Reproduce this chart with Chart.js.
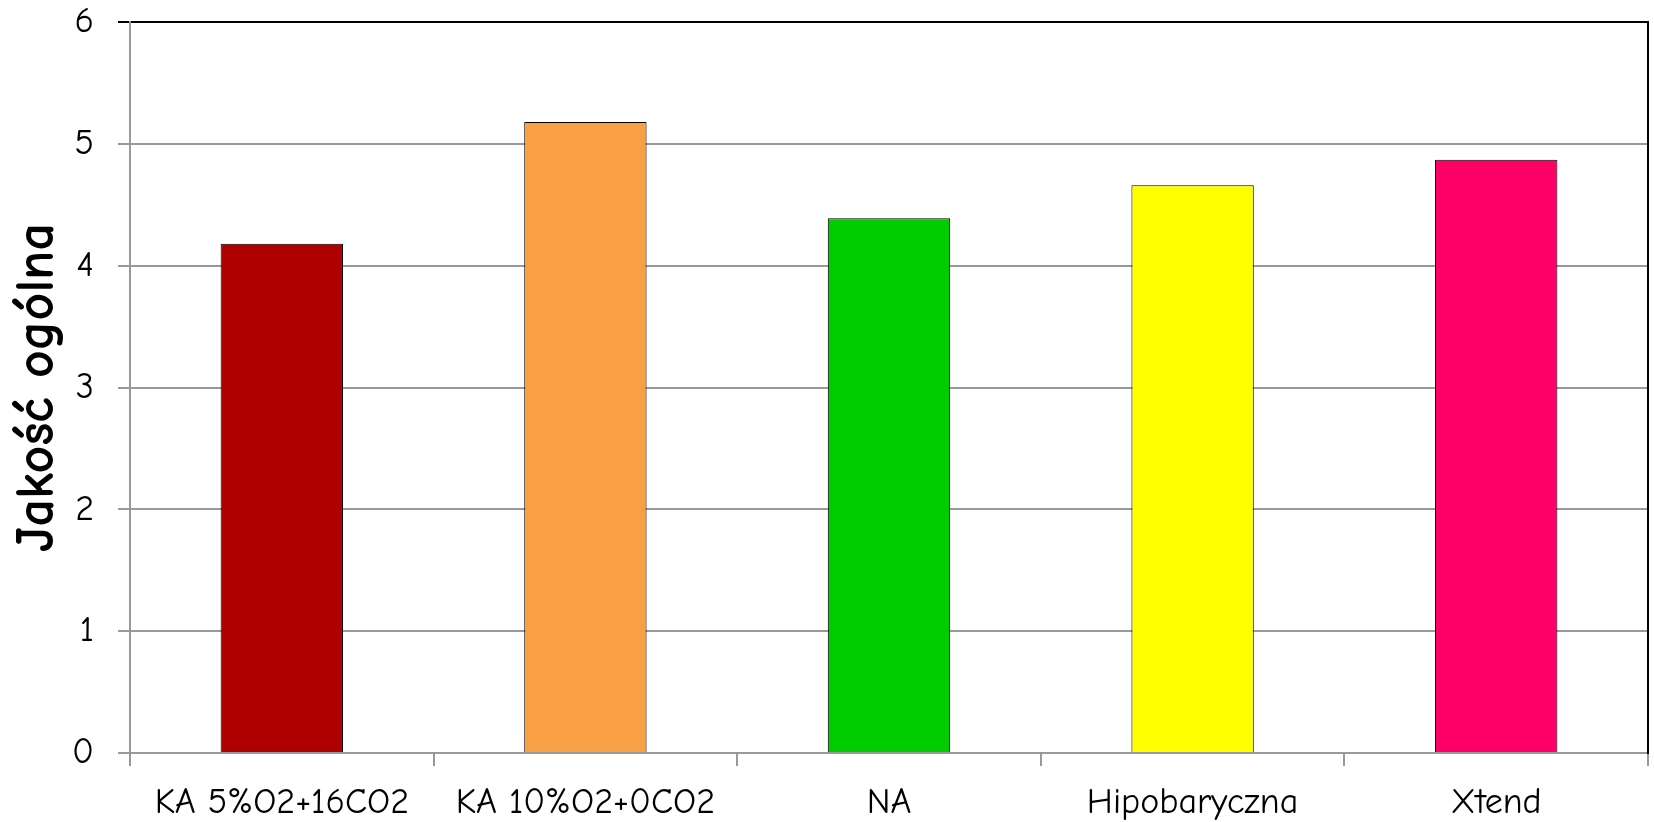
<!DOCTYPE html>
<html>
<head>
<meta charset="utf-8">
<script src="https://cdn.jsdelivr.net/npm/chart.js@4/dist/chart.umd.min.js"></script>
<style>
  html, body { margin: 0; padding: 0; background: #ffffff; }
  #wrap { width: 1654px; height: 822px; position: relative; }
</style>
</head>
<body>
<div id="wrap"><canvas id="c" width="1654" height="822"></canvas></div>
<script>
const categories = ['KA 5%O2+16CO2', 'KA 10%O2+0CO2', 'NA', 'Hipobaryczna', 'Xtend'];
const quality = [4.18, 5.18, 4.39, 4.66, 4.87];
const barColors = ['#AE0000', '#F9A044', '#00CC00', '#FFFF00', '#FF0066'];
const yTicks = [0, 1, 2, 3, 4, 5, 6];
const yTitle = 'Jakość ogólna';

const fontFamily = '"Comic Sans MS", "Comic Neue", "Open Sans", "DejaVu Sans", sans-serif';

new Chart(document.getElementById('c'), {
  type: 'bar',
  data: {
    labels: categories,
    datasets: [{
      data: quality,
      backgroundColor: barColors,
      borderColor: '#000000',
      borderWidth: 1,
      categoryPercentage: 1.0,
      barPercentage: 0.403
    }]
  },
  options: {
    responsive: false,
    animation: false,
    devicePixelRatio: 1,
    layout: { padding: { top: 22, right: 6, left: 0, bottom: 0 } },
    plugins: { legend: { display: false }, tooltip: { enabled: false } },
    scales: {
      x: {
        offset: true,
        grid: { display: true, drawOnChartArea: false, tickLength: 13, color: '#999999', lineWidth: 2 },
        border: { display: true, color: '#999999', width: 2 },
        ticks: { color: '#000000', padding: 15, font: { family: fontFamily, size: 36 } },
        afterFit(scale) { scale.height = 69; }
      },
      y: {
        min: 0,
        max: 6,
        afterBuildTicks(scale) { scale.ticks = yTicks.map(v => ({ value: v })); },
        grid: {
          color: ctx => (ctx.tick && ctx.tick.value === 6) ? '#000000' : '#999999',
          lineWidth: 2, tickLength: 12
        },
        border: { display: true, color: '#999999', width: 2 },
        ticks: { color: '#000000', padding: 24, font: { family: fontFamily, size: 36 } },
        title: {
          display: true, text: yTitle, color: '#000000', padding: { top: 5, bottom: 0 },
          font: { family: fontFamily, size: 54, weight: 'bold' }
        },
        afterFit(scale) {
          scale.width = 130;
          scale.paddingTop = 0;
          scale.paddingBottom = 0;
        }
      },
      yRight: {
        position: 'right', min: 0, max: 6,
        grid: { display: false },
        border: { display: true, color: '#000000', width: 2 },
        ticks: { display: false },
        afterFit(scale) { scale.width = 0; }
      }
    }
  }
});
</script>
</body>
</html>
